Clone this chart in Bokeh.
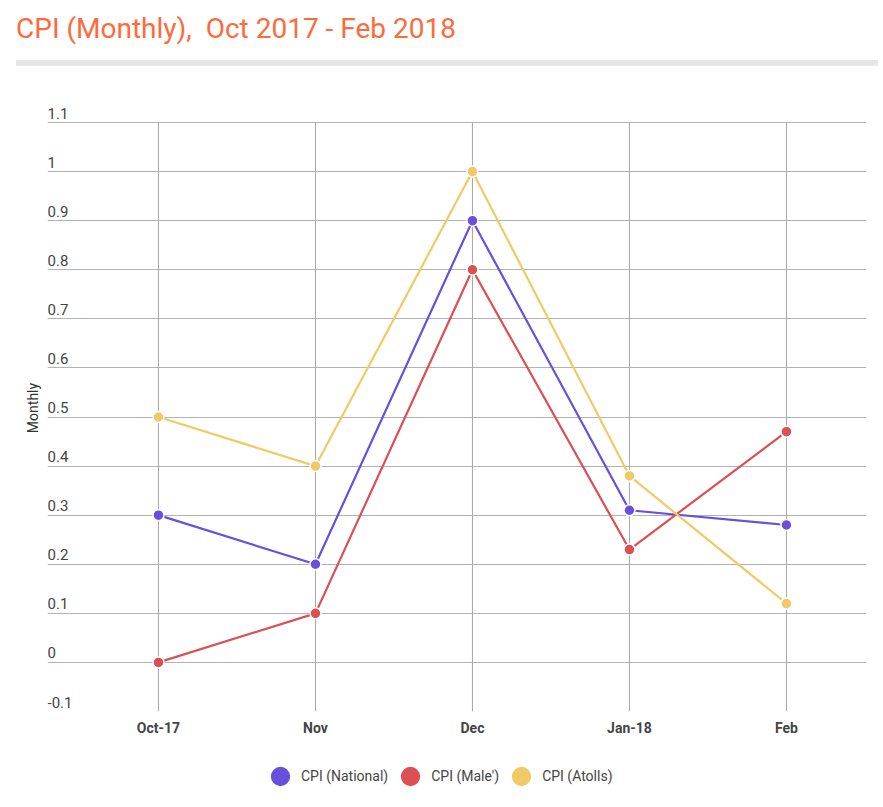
from bokeh.plotting import figure
from bokeh.models import Range1d, FixedTicker, Legend, LegendItem, Div, ColumnDataSource, LabelSet
from bokeh.layouts import column
from bokeh.embed import file_html
from bokeh.resources import INLINE
from bokeh.core.properties import value

categories = ["Oct-17", "Nov", "Dec", "Jan-18", "Feb"]
cpi_national = [0.3, 0.2, 0.9, 0.31, 0.28]
cpi_male = [0.0, 0.1, 0.8, 0.23, 0.47]
cpi_atolls = [0.5, 0.4, 1.0, 0.38, 0.12]
series_names = ["CPI (National)", "CPI (Male')", "CPI (Atolls)"]
series_colors = ["#6a4fdc", "#dc4f52", "#f1ca66"]
y_ticks = [-0.1, 0.0, 0.1, 0.2, 0.3, 0.4, 0.5, 0.6, 0.7, 0.8, 0.9, 1.0, 1.1]
y_tick_labels = ["-0.1", "0", "0.1", "0.2", "0.3", "0.4", "0.5", "0.6", "0.7", "0.8", "0.9", "1", "1.1"]
title_text = "CPI (Monthly),  Oct 2017 - Feb 2018"

FONT = "Roboto"
xs = list(range(len(categories)))
series_values = [cpi_national, cpi_male, cpi_atolls]

title_div = Div(
    text=(
        '<div style="font-family:Roboto;font-size:28px;line-height:32px;color:#ff6a3c;'
        'white-space:pre;padding:13px 0 0 16px;margin:0;">' + title_text + '</div>'
        '<div style="margin:15px 0 0 16px;width:862px;height:6px;background:#e6e6e6;"></div>'
    ),
    width=880, height=65, margin=(0, 0, 0, 0),
)

# frame: 18px of headroom above the 1.1 gridline for its label
p = figure(
    width=880, height=676,
    x_range=Range1d(-0.707, 4.51), y_range=Range1d(-0.1, 1.1367),
    output_backend="svg", toolbar_location=None,
    min_border_left=47, min_border_right=14, min_border_top=39, min_border_bottom=30,
)
p.outline_line_color = None
p.background_fill_color = "white"
p.border_fill_color = "white"

# vertical gridlines only between the first and last y tick
p.xgrid.grid_line_color = None
p.segment(x0=xs, y0=[y_ticks[0]] * len(xs), x1=xs, y1=[y_ticks[-1]] * len(xs),
          line_color="#a6a6a6", line_width=1)
p.ygrid.ticker = FixedTicker(ticks=y_ticks)
p.ygrid.grid_line_color = "#b3b3b3"
p.ygrid.grid_line_width = 1

# x axis
p.xaxis.ticker = FixedTicker(ticks=xs)
p.xaxis.major_label_overrides = {i: c for i, c in enumerate(categories)}
p.xaxis.axis_line_color = None
p.xaxis.major_tick_line_color = None
p.xaxis.minor_tick_line_color = None
p.xaxis.major_tick_out = 0
p.xaxis.major_tick_in = 0
p.xaxis.major_label_text_font = FONT
p.xaxis.major_label_text_font_size = "14px"
p.xaxis.major_label_text_font_style = "bold"
p.xaxis.major_label_text_color = "#444444"
p.xaxis.major_label_standoff = 8

# y axis: only the title; tick labels drawn above gridlines
p.yaxis.ticker = FixedTicker(ticks=[])
p.yaxis.axis_line_color = None
p.yaxis.major_tick_line_color = None
p.yaxis.minor_tick_line_color = None
p.yaxis.major_tick_out = 0
p.yaxis.axis_label = "Monthly"
p.yaxis.axis_label_text_font = FONT
p.yaxis.axis_label_text_font_size = "14px"
p.yaxis.axis_label_text_font_style = "normal"
p.yaxis.axis_label_text_color = "#333333"
p.yaxis.axis_label_standoff = 7

tick_src = ColumnDataSource(dict(x=[p.x_range.start] * len(y_ticks), y=y_ticks, t=y_tick_labels))
p.add_layout(LabelSet(x="x", y="y", text="t", source=tick_src, text_font=value(FONT),
                      text_font_size=value("15px"), text_color="#444444", text_align="left",
                      text_baseline="alphabetic", y_offset=4, x_offset=0))

for name, vals, col in zip(series_names, series_values, series_colors):
    p.line(xs, vals, line_color=col, line_width=2.2)
    p.scatter(xs, vals, size=11, fill_color=col, line_color="white", line_width=1.5)

# legend strip below the chart (its own renderers sit outside the visible range)
lg = figure(
    width=880, height=60, x_range=Range1d(100, 101), y_range=Range1d(100, 101),
    x_axis_type=None, y_axis_type=None, output_backend="svg", toolbar_location=None,
    min_border=0,
)
lg.outline_line_color = None
lg.xgrid.grid_line_color = None
lg.ygrid.grid_line_color = None
items = []
for name, vals, col in zip(series_names, series_values, series_colors):
    r = lg.scatter(xs, vals, fill_color=col, line_color=col, line_width=2.5, size=19)
    items.append(LegendItem(label=name, renderers=[r]))
legend = Legend(
    items=items, orientation="horizontal", location=(212, 1),
    glyph_width=42, glyph_height=48, label_standoff=0, spacing=1,
    padding=0, margin=0, border_line_color=None, background_fill_alpha=0,
    label_text_font=FONT, label_text_font_size="14px", label_text_color="#444444",
)
lg.add_layout(legend, "center")

layout = column(title_div, p, lg, spacing=0)
open("out.html", "w").write(file_html(layout, INLINE))
